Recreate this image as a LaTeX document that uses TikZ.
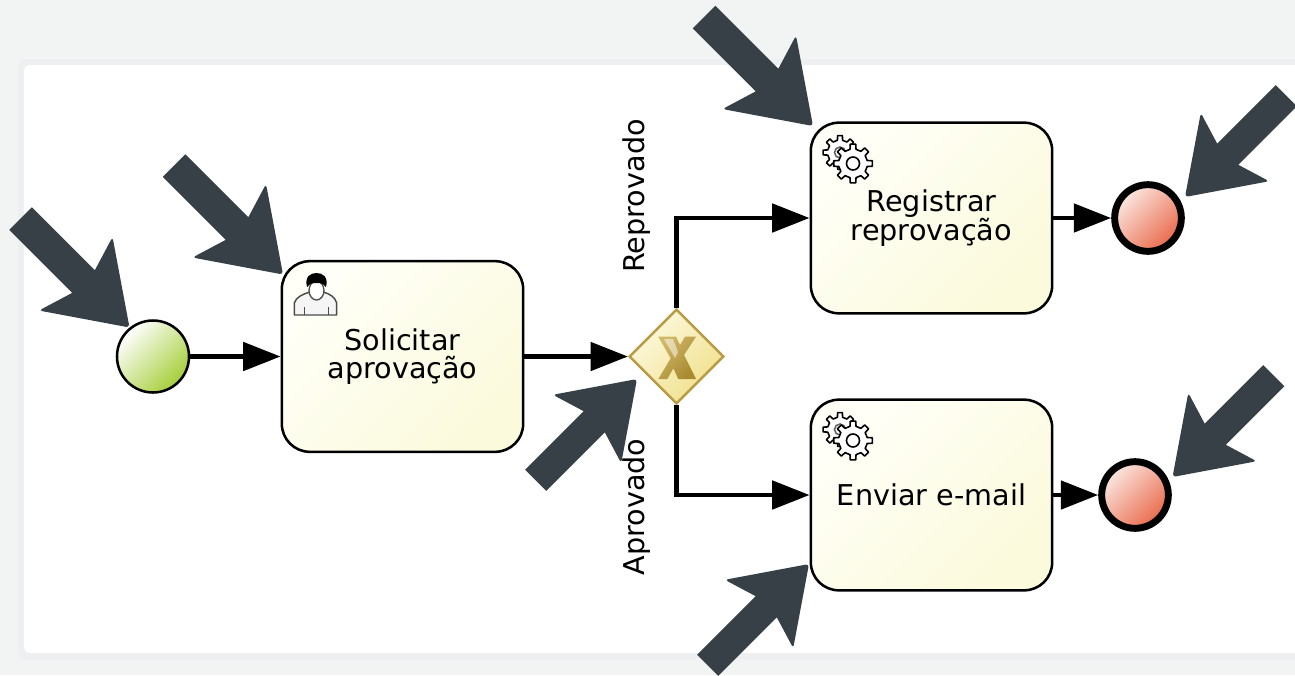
\documentclass[tikz,border=0pt]{standalone}
\usepackage{fontspec}
\setmainfont{DejaVu Sans}
\usetikzlibrary{shapes.geometric,arrows.meta}
\definecolor{pagebg}{HTML}{F2F4F4}
\definecolor{paneledge}{HTML}{EEEFF0}
\definecolor{arrowdark}{HTML}{364046}
\definecolor{taskA}{HTML}{FFFFF8}
\definecolor{taskB}{HTML}{FBFADC}
\definecolor{startB}{HTML}{A6CE39}
\definecolor{endA}{HTML}{FBE8E2}
\definecolor{endB}{HTML}{E9694A}
\definecolor{gateA}{HTML}{FDF9E0}
\definecolor{gateB}{HTML}{F0E08A}
\definecolor{gateline}{HTML}{B89B45}
\definecolor{goldA}{HTML}{D0B868}
\definecolor{goldB}{HTML}{A88A30}
\tikzset{
  lbl/.style={font=\fontsize{21.5}{21.6}\selectfont,align=center,text=black},
  taskbox/.style={draw=black,line width=1.9pt,rectangle,rounded corners=21pt,
    minimum width=181pt,minimum height=143pt,inner sep=0pt,
    left color=taskA,right color=taskB,shading angle=45,lbl},
  startev/.style={draw=black,line width=1.9pt,circle,minimum size=54pt,inner sep=0pt,
    left color=white,right color=startB,shading angle=45},
  endev/.style={draw=black,line width=5.2pt,circle,minimum size=50pt,inner sep=0pt,
    left color=endA,right color=endB,shading angle=45},
  gatebox/.style={draw=gateline,line width=1.8pt,diamond,aspect=1,minimum width=71pt,minimum height=71pt,inner sep=0pt,
    left color=gateA,right color=gateB,shading angle=45},
  flow/.style={draw=black,line width=3.6pt,-{Triangle[length=28pt,width=21pt]}},
  pics/bigarrow/.style={code={
    \fill[arrowdark] [rounded corners=2.5pt] (0,0) -- (76,52) [sharp corners] -- (65,16) -- (154,16) -- (154,-16) -- (65,-16) [rounded corners=2.5pt] -- (76,-52) -- cycle;
  }},
  pics/gear/.style args={#1/#2}{code={
    \draw[draw=black,fill=white,line width=1.2pt,line join=round]
      (-12:#1)
      \foreach \a in {0,45,...,315}{ -- (\a-12:#1) -- (\a-8:#2) -- (\a+8:#2) -- (\a+12:#1)}
      -- cycle;
  }},
}
\begin{document}
\begin{tikzpicture}[x=0.75pt,y=-0.75pt]
\useasboundingbox (0,0) rectangle (1295,675);
\clip (0,0) rectangle (1295,675);
\fill[pagebg] (0,0) rectangle (1295,675);
\fill[paneledge,rounded corners=6pt] (18,59) rectangle (1320,659);
\fill[white,rounded corners=4pt] (24,65) rectangle (1320,653);

% events, tasks, gateway
\node[startev] (start) at (153,356.5) {};
\node[taskbox] (solicitar) at (402.5,356.5) {Solicitar\\aprovação};
\node[gatebox] (gw) at (676.5,356.5) {};
\node[taskbox] (registrar) at (931.5,218) {Registrar\\reprovação};
\node[taskbox] (enviar) at (931.5,495) {Enviar e-mail};
\node[endev] (end1) at (1148,218) {};
\node[endev] (end2) at (1135,495) {};

% connectors
\draw[flow] (start) -- (solicitar);
\draw[flow] (solicitar) -- (gw);
\draw[flow] (gw.north) |- (registrar.west);
\draw[flow] (gw.south) |- (enviar.west);
\draw[flow] (registrar) -- (end1);
\draw[flow] (enviar) -- (end2);

% gateway X
\shade[left color=goldA,right color=goldB,shading angle=45]
  (658.3,336.7) -- (676,336.7) -- (680,345) -- (685,336.7) -- (696,336.7) -- (684,355) -- (696,379) -- (678.3,379) -- (673.3,368.3) -- (667.3,379) -- (658.3,379) -- (670.7,358.3) -- cycle;
\fill[white,opacity=.5] (664,339) -- (673,339) -- (678,352) -- (675,358) -- cycle;

% flow labels
\node[lbl,rotate=90] (lblR) at (637,196) {Reprovado};
\node[lbl,rotate=90] (lblA) at (637,507) {Aprovado};

% user icon
\draw[draw=black!70,fill=black!4,line width=1.1pt,line join=round]
  (294.3,315) -- (294.3,303) .. controls (296,297) and (303,294) .. (310,292) -- (323.3,292) .. controls (330,294) and (335,297) .. (336.7,303) -- (336.7,315) -- cycle;
\draw[draw=black!70,line width=1pt] (304.5,315) -- (304.5,307) (328.3,315) -- (328.3,307);
\draw[draw=black!70,fill=white,line width=1pt] (316.5,290.5) ellipse (7.5 and 9.5);
\fill[black] (307,287) .. controls (304.5,277) and (310,273) .. (316.5,273) .. controls (323,273) and (328.5,277) .. (326,287) .. controls (324,284) and (322,283) .. (316.5,283) .. controls (311,283) and (309,284) .. (307,287) -- cycle;

% gear icons
\foreach \dy in {0,277}{
  \pic at (840,152.5+\dy) {gear=12.5/17};
  \draw[black!60,line width=1.2pt] (840,152.5+\dy) circle (5.5);
  \pic at (853,163.5+\dy) {gear=14.5/19.5};
  \draw[black,fill=white,line width=1.2pt] (853,163.5+\dy) circle (6.5);
}

% annotation arrows
\pic[rotate=135] at (129.5,327.5) {bigarrow};
\pic[rotate=135] at (283,274.5) {bigarrow};
\pic[rotate=135] at (813,126) {bigarrow};
\pic[rotate=-135,scale=.93] at (637,379) {bigarrow};
\pic[rotate=45,scale=.93] at (1185,197) {bigarrow};
\pic[rotate=45,scale=.93] at (1172.5,477) {bigarrow};
\pic[rotate=-135,scale=.93] at (809,564) {bigarrow};
\end{tikzpicture}
\end{document}
